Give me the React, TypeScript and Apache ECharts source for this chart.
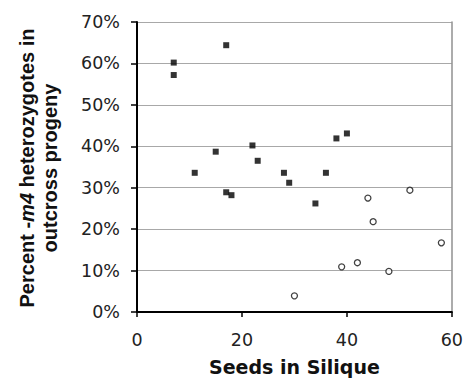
import React, { useEffect, useRef } from "react";
import * as echarts from "echarts";

// Seeds per silique (x) and percent -m4 heterozygotes (y)
const filledSeeds = [7, 7, 17, 15, 11, 17, 18, 22, 23, 28, 29, 36, 38, 40, 34];
const filledPercent = [60.2, 57.2, 64.4, 38.7, 33.6, 28.9, 28.2, 40.2, 36.5, 33.6, 31.2, 33.6, 41.9, 43.1, 26.2];
const openSeeds = [44, 52, 45, 58, 39, 42, 48, 30];
const openPercent = [27.5, 29.4, 21.8, 16.7, 10.9, 11.9, 9.8, 3.9];

const xTicks = { min: 0, max: 60, interval: 20 };
const yTicks = { min: 0, max: 70, interval: 10 };

export default function App() {
  const ref = useRef<HTMLDivElement>(null);
  useEffect(() => {
    if (!ref.current) return;
    const chart = echarts.init(ref.current, null, { renderer: "svg" });
    const font = "DejaVu Sans";
    const titleFont = "Liberation Sans";
    chart.setOption({
      animation: false,
      backgroundColor: "#ffffff",
      grid: { left: 137, right: 14, top: 22, bottom: 66 },
      xAxis: {
        type: "value",
        min: xTicks.min,
        max: xTicks.max,
        interval: xTicks.interval,
        name: "Seeds in Silique",
        nameLocation: "middle",
        nameGap: 45,
        nameTextStyle: { fontFamily: font, fontWeight: "bold", fontSize: 19, color: "#111" },
        axisLine: { lineStyle: { color: "#000", width: 2 } },
        axisTick: { show: true, inside: false, length: 5, lineStyle: { color: "#000", width: 1.5 } },
        axisLabel: { fontFamily: font, fontSize: 17.5, color: "#222", margin: 19 },
        splitLine: { show: false },
      },
      yAxis: [
        {
          type: "value",
          min: yTicks.min,
          max: yTicks.max,
          interval: yTicks.interval,
          axisLine: { show: true, lineStyle: { color: "#000", width: 2 } },
          axisTick: { show: true, inside: false, length: 6, lineStyle: { color: "#000", width: 1.5 } },
          axisLabel: { fontFamily: font, fontSize: 17.5, color: "#222", margin: 17, formatter: "{value}%" },
          splitLine: { show: true, lineStyle: { color: "#a8a8a8", width: 1 } },
        },
        {
          type: "value",
          position: "right",
          min: yTicks.min,
          max: yTicks.max,
          interval: yTicks.interval,
          axisLine: { show: true, lineStyle: { color: "#909090", width: 1.5 } },
          axisTick: { show: false },
          axisLabel: { show: false },
          splitLine: { show: false },
        },
      ],
      graphic: [
        {
          type: "text",
          x: 38,
          y: 168,
          rotation: Math.PI / 2,
          style: {
            text: "{b|Percent -}{i|m4}{b| heterozygotes in}\n{b|outcross progeny}",
            align: "center",
            verticalAlign: "middle",
            fill: "#111",
            rich: {
              b: { fontFamily: titleFont, fontWeight: "bold", fontSize: 20, fill: "#111", lineHeight: 23 },
              i: { fontFamily: titleFont, fontWeight: "bold", fontStyle: "italic", fontSize: 20, fill: "#111", lineHeight: 23 },
            },
          },
        },
      ],
      series: [
        {
          type: "scatter",
          symbol: "rect",
          symbolSize: 6,
          itemStyle: { color: "#000" },
          data: filledSeeds.map((s, i) => [s, filledPercent[i]]),
        },
        {
          type: "scatter",
          symbol: "circle",
          symbolSize: 6,
          itemStyle: { color: "#fff", borderColor: "#111", borderWidth: 1.3 },
          data: openSeeds.map((s, i) => [s, openPercent[i]]),
        },
      ],
    });
    return () => chart.dispose();
  }, []);
  return (
    <div
      ref={ref}
      style={{ position: "fixed", left: 0, top: 0, width: 466, height: 381 }}
    />
  );
}
